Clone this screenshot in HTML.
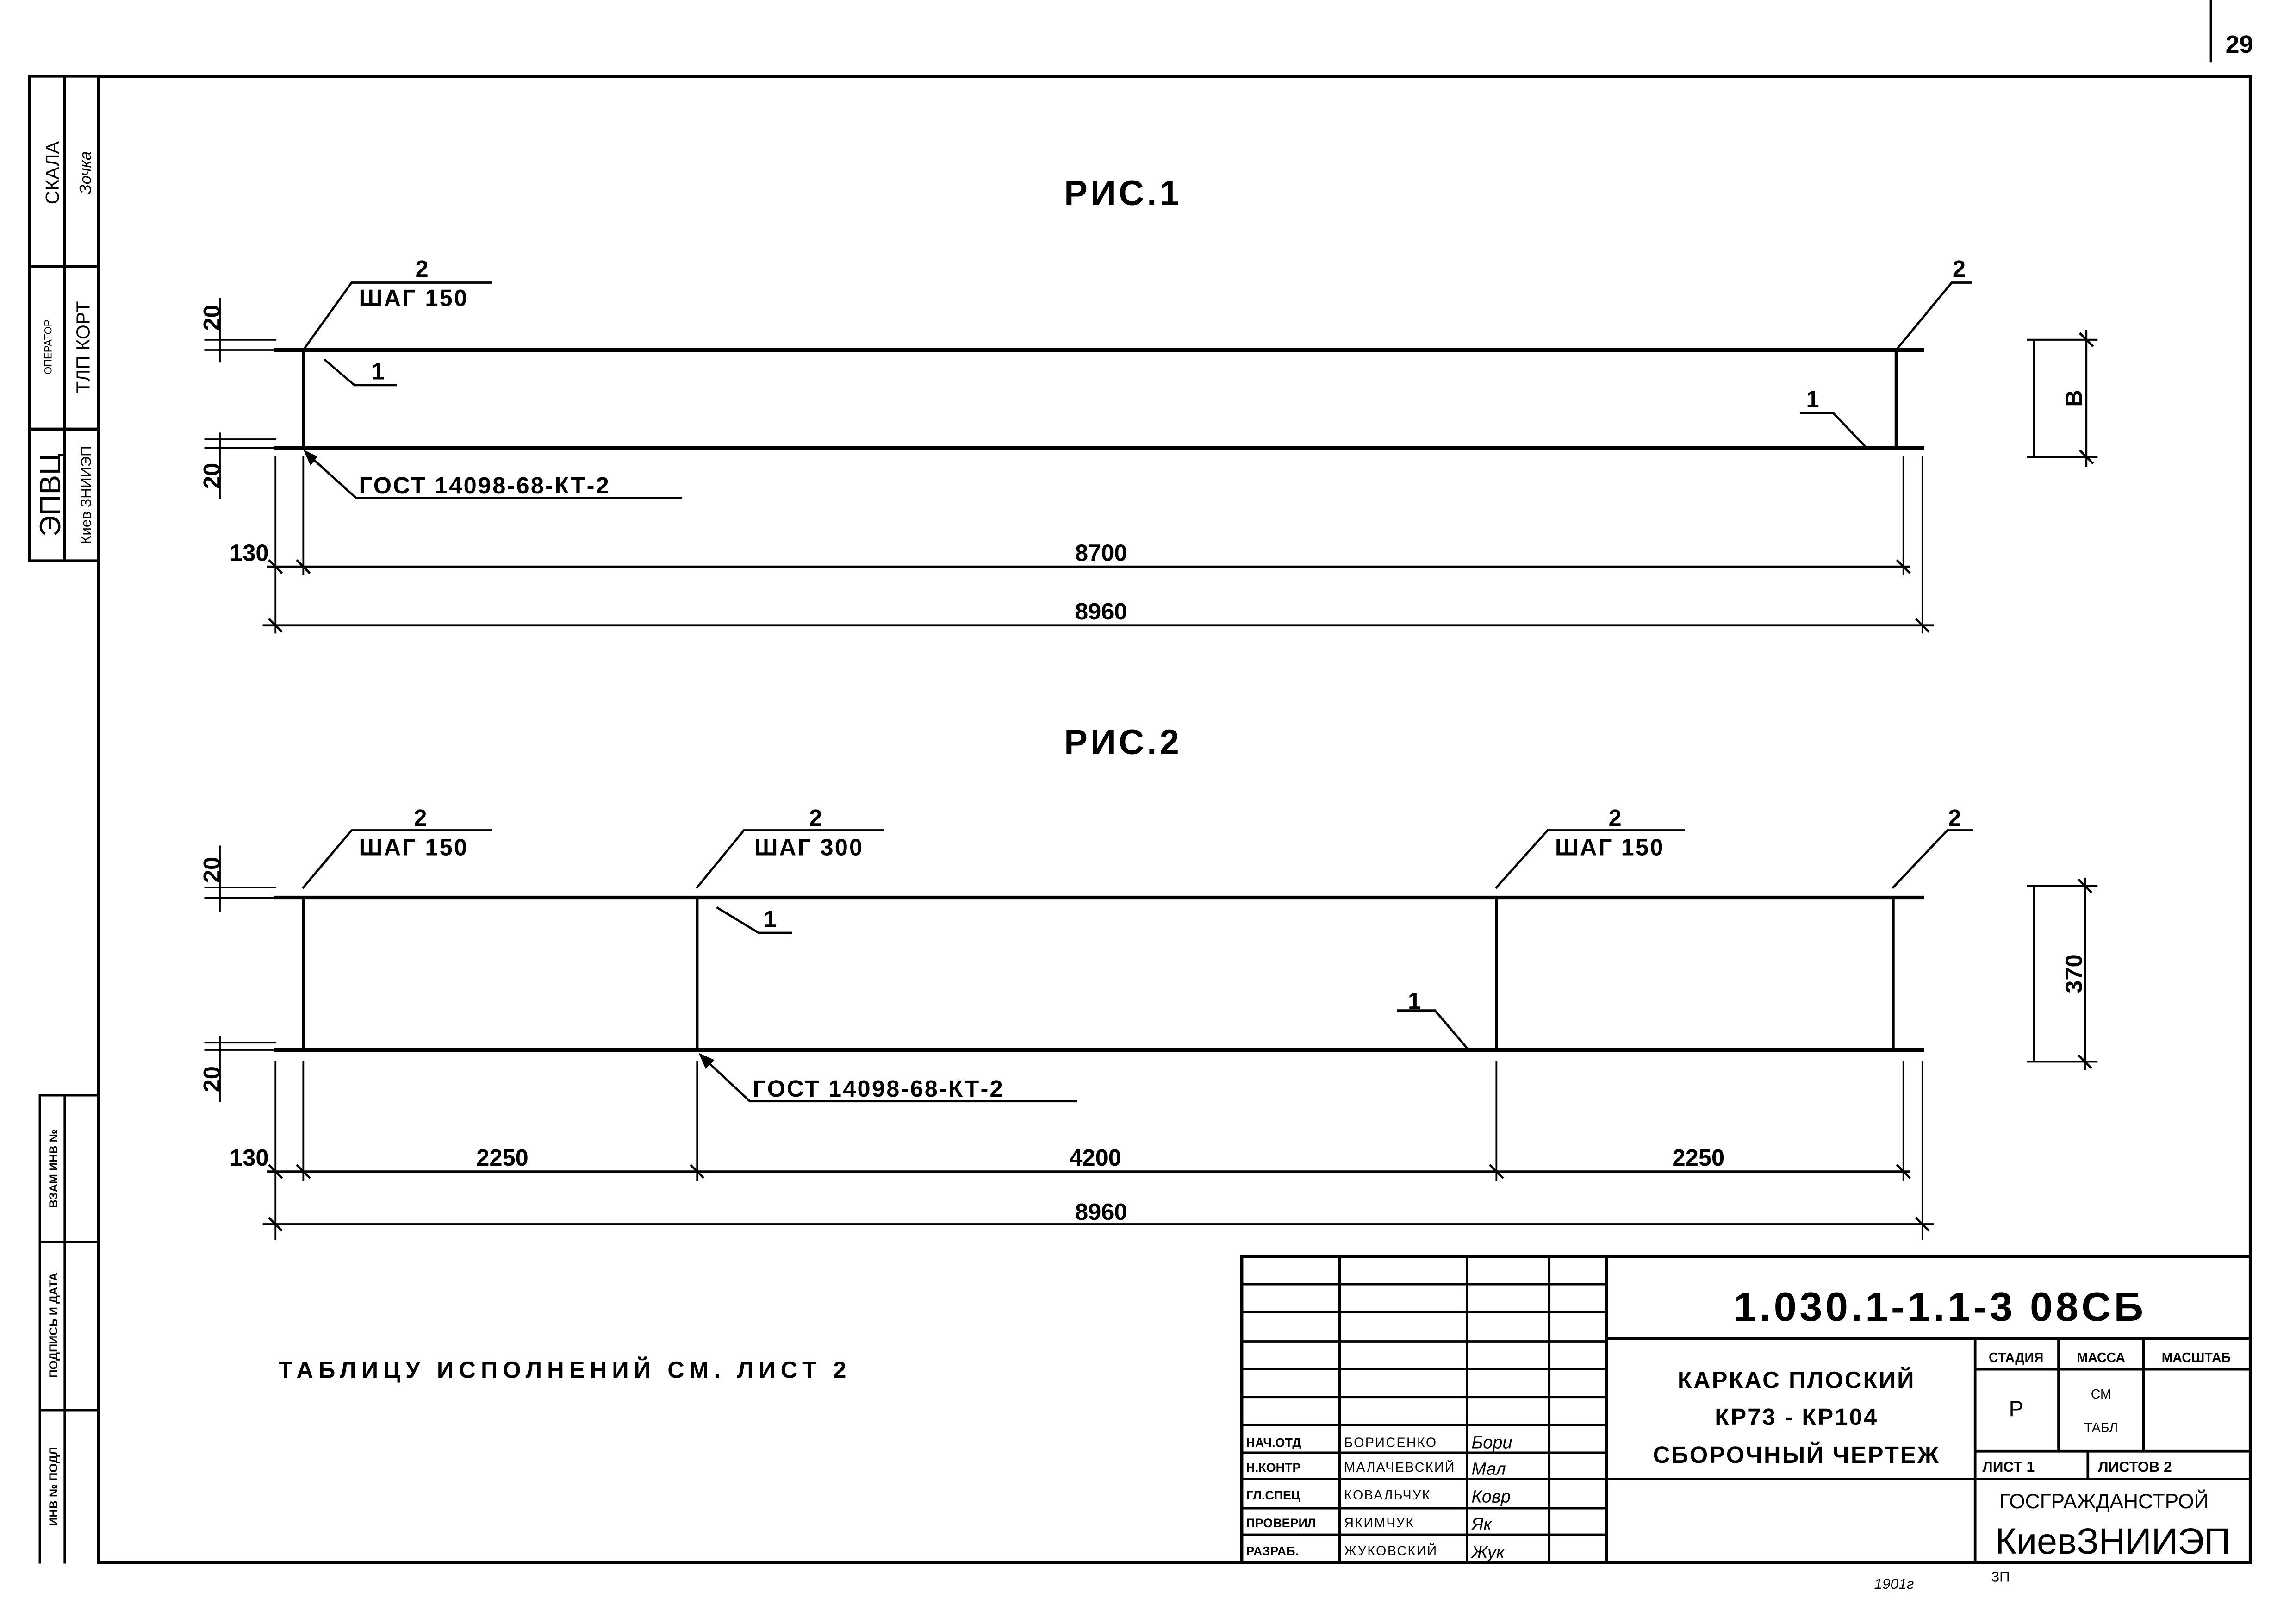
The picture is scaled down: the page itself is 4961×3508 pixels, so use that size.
<!DOCTYPE html>
<html><head><meta charset="utf-8"><style>
html,body{margin:0;padding:0;background:#fff}
svg{display:block}
text{font-family:"Liberation Sans","DejaVu Sans",sans-serif;fill:#000}
</style></head><body>
<svg width="4961" height="3508" viewBox="0 0 1568 1109" xmlns="http://www.w3.org/2000/svg">
<rect width="1568" height="1109" fill="#fff"/>
<g stroke="#000" fill="none" stroke-linecap="square">
<path d="M67 52H1537V1067H67Z" stroke-width="2.2"/>
<path d="M1510 0V42" stroke-width="1.5"/>
<path d="M20 52H67M20 52V383H67M44 52V383M20 182H67M20 293H67" stroke-width="2"/>
<path d="M27 748V1067M27 748H67M27 848H67M27 963H67M44 748V1067" stroke-width="1.5"/>
<path d="M848 858H1537M848 858V1067M1097 858V1067M848 1067H1537" stroke-width="2.2"/>
<path d="M915 858V1067M1002 858V1067M1058 858V1067" stroke-width="1.8"/>
<path d="M848 877H1097M848 896H1097M848 916H1097M848 935H1097M848 954H1097M848 973H1097M848 992H1097M848 1010H1097M848 1030H1097M848 1048H1097" stroke-width="1.5"/>
<path d="M1097 914H1537M1349 914V1067M1349 935H1537M1406 914V991M1464 914V991M1349 991H1537M1349 1010H1537M1426 991V1010M1097 1010H1349" stroke-width="1.8"/>

<path d="M188 239H1313M188 306H1313" stroke-width="2.6"/>
<path d="M207 239V306M1295 239V306" stroke-width="2"/>
<path d="M207 239L240 193H335M1295 239L1333 193H1346" stroke-width="1.5"/>
<path d="M222 246L242 263H270M1275 306L1252 282H1230" stroke-width="1.5"/>
<path d="M212 312L243 340H465" stroke-width="1.5"/>
<path d="M208 308L216 312L212 317Z" fill="#000" stroke-width="1"/>
<path d="M150 204V247M140 232H188M140 239H188M150 296V340M140 300H188M140 306H188" stroke-width="1.2"/>
<path d="M188 312V432M207 312V392M1300 312V392M1313 312V432" stroke-width="1.2"/>
<path d="M183 387H1304M180 427H1320" stroke-width="1.5"/>
<path d="M184 383L192 391M203 383L211 391M1296 383L1304 391M184 423L192 431M1309 423L1317 431" stroke-width="1.5"/>
<path d="M1385 232H1432M1385 312H1432M1389 232V312M1425 226V318" stroke-width="1.3"/>
<path d="M1421 228L1429 236M1421 308L1429 316" stroke-width="1.5"/>

<path d="M188 613H1313M188 717H1313" stroke-width="2.6"/>
<path d="M207 613V717M476 613V717M1022 613V717M1293 613V717" stroke-width="2"/>
<path d="M207 606L240 567H335M476 606L508 567H603M1022 606L1057 567H1150M1293 606L1330 567H1347" stroke-width="1.5"/>
<path d="M490 620L518 637H540M1003 717L980 690H955" stroke-width="1.5"/>
<path d="M482 724L512 752H735" stroke-width="1.5"/>
<path d="M478 720L487 724L482 729Z" fill="#000" stroke-width="1"/>
<path d="M150 578V622M140 606H188M140 613H188M150 708V752M140 712H188M140 717H188" stroke-width="1.2"/>
<path d="M188 725V846M207 725V806M476 725V806M1022 725V806M1300 725V806M1313 725V846" stroke-width="1.2"/>
<path d="M183 800H1304M180 836H1320" stroke-width="1.5"/>
<path d="M184 796L192 804M203 796L211 804M472 796L480 804M1018 796L1026 804M1296 796L1304 804M184 832L192 840M1309 832L1317 840" stroke-width="1.5"/>
<path d="M1385 605H1432M1385 725H1432M1389 605V725M1424 600V730" stroke-width="1.3"/>
<path d="M1420 601L1428 609M1420 721L1428 729" stroke-width="1.5"/>
</g>

<g font-size="16" font-weight="600">
<text x="1520" y="36" font-size="17">29</text>
<text x="767" y="140" font-size="24" font-weight="bold" text-anchor="middle" letter-spacing="2">РИС.1</text>
<text x="767" y="515" font-size="24" font-weight="bold" text-anchor="middle" letter-spacing="2">РИС.2</text>

<text x="288" y="189" text-anchor="middle">2</text>
<text x="245" y="209" letter-spacing="1">ШАГ 150</text>
<text x="1338" y="189" text-anchor="middle">2</text>
<text x="258" y="259" text-anchor="middle">1</text>
<text x="1238" y="278" text-anchor="middle">1</text>
<text x="245" y="337" letter-spacing="1">ГОСТ 14098-68-КТ-2</text>
<text x="170" y="383" text-anchor="middle">130</text>
<text x="752" y="383" text-anchor="middle">8700</text>
<text x="752" y="423" text-anchor="middle">8960</text>
<text transform="translate(150,217) rotate(-90)" text-anchor="middle">20</text>
<text transform="translate(150,325) rotate(-90)" text-anchor="middle">20</text>
<text transform="translate(1422,272) rotate(-90)" text-anchor="middle">В</text>

<text x="287" y="564" text-anchor="middle">2</text>
<text x="245" y="584" letter-spacing="1">ШАГ 150</text>
<text x="557" y="564" text-anchor="middle">2</text>
<text x="515" y="584" letter-spacing="1">ШАГ 300</text>
<text x="1103" y="564" text-anchor="middle">2</text>
<text x="1062" y="584" letter-spacing="1">ШАГ 150</text>
<text x="1335" y="564" text-anchor="middle" font-weight="bold">2</text>
<text x="526" y="633" text-anchor="middle">1</text>
<text x="966" y="689" text-anchor="middle">1</text>
<text x="514" y="749" letter-spacing="1">ГОСТ 14098-68-КТ-2</text>
<text x="170" y="796" text-anchor="middle">130</text>
<text x="343" y="796" text-anchor="middle">2250</text>
<text x="748" y="796" text-anchor="middle">4200</text>
<text x="1160" y="796" text-anchor="middle">2250</text>
<text x="752" y="833" text-anchor="middle">8960</text>
<text transform="translate(150,594) rotate(-90)" text-anchor="middle">20</text>
<text transform="translate(150,737) rotate(-90)" text-anchor="middle">20</text>
<text transform="translate(1422,665) rotate(-90)" text-anchor="middle">370</text>

<text x="190" y="941" letter-spacing="3.5">ТАБЛИЦУ  ИСПОЛНЕНИЙ  СМ.  ЛИСТ  2</text>
</g>

<g>
<text transform="translate(40,118) rotate(-90)" font-size="13" text-anchor="middle">СКАЛА</text>
<text transform="translate(62,118) rotate(-90)" font-size="11" font-style="italic" text-anchor="middle">Зочка</text>
<text transform="translate(35,237) rotate(-90)" font-size="7" text-anchor="middle">ОПЕРАТОР</text>
<text transform="translate(61,237) rotate(-90)" font-size="13" text-anchor="middle">ТЛП КОРТ</text>
<text transform="translate(41,338) rotate(-90)" font-size="20" text-anchor="middle">ЭПВЦ</text>
<text transform="translate(62,338) rotate(-90)" font-size="10" text-anchor="middle">Киев ЗНИИЭП</text>
<text transform="translate(39,798) rotate(-90)" font-size="8" font-weight="bold" text-anchor="middle">ВЗАМ ИНВ №</text>
<text transform="translate(39,905) rotate(-90)" font-size="8" font-weight="bold" text-anchor="middle">ПОДПИСЬ И ДАТА</text>
<text transform="translate(39,1015) rotate(-90)" font-size="8" font-weight="bold" text-anchor="middle">ИНВ № ПОДЛ</text>
</g>

<g>
<text x="1325" y="902" font-size="28" font-weight="bold" text-anchor="middle" letter-spacing="2">1.030.1-1.1-3 08СБ</text>
<text x="1227" y="948" font-size="16" font-weight="600" text-anchor="middle" letter-spacing="1">КАРКАС ПЛОСКИЙ</text>
<text x="1227" y="973" font-size="16" font-weight="600" text-anchor="middle" letter-spacing="1">КР73 - КР104</text>
<text x="1227" y="999" font-size="16" font-weight="600" text-anchor="middle" letter-spacing="1">СБОРОЧНЫЙ ЧЕРТЕЖ</text>
<text x="1377" y="930" font-size="9" font-weight="bold" text-anchor="middle">СТАДИЯ</text>
<text x="1435" y="930" font-size="9" font-weight="bold" text-anchor="middle">МАССА</text>
<text x="1500" y="930" font-size="9" font-weight="bold" text-anchor="middle">МАСШТАБ</text>
<text x="1377" y="967" font-size="15" text-anchor="middle">Р</text>
<text x="1435" y="955" font-size="9" text-anchor="middle">СМ</text>
<text x="1435" y="978" font-size="9" text-anchor="middle">ТАБЛ</text>
<text x="1354" y="1005" font-size="10" font-weight="bold">ЛИСТ  1</text>
<text x="1433" y="1005" font-size="10" font-weight="bold">ЛИСТОВ   2</text>
<text x="1437" y="1030" font-size="14" text-anchor="middle">ГОСГРАЖДАНСТРОЙ</text>
<text x="1443" y="1061" font-size="25" text-anchor="middle">КиевЗНИИЭП</text>
<g font-size="8.5" font-weight="bold">
<text x="851" y="988">НАЧ.ОТД</text>
<text x="851" y="1005">Н.КОНТР</text>
<text x="851" y="1024">ГЛ.СПЕЦ</text>
<text x="851" y="1043">ПРОВЕРИЛ</text>
<text x="851" y="1062">РАЗРАБ.</text>
</g>
<g font-size="9" letter-spacing="0.8">
<text x="918" y="988">БОРИСЕНКО</text>
<text x="918" y="1005">МАЛАЧЕВСКИЙ</text>
<text x="918" y="1024">КОВАЛЬЧУК</text>
<text x="918" y="1043">ЯКИМЧУК</text>
<text x="918" y="1062">ЖУКОВСКИЙ</text>
</g>
<g font-size="12" font-style="italic">
<text x="1005" y="989">Бори</text>
<text x="1005" y="1007">Мал</text>
<text x="1005" y="1026">Ковр</text>
<text x="1005" y="1045">Як</text>
<text x="1005" y="1064">Жук</text>
</g>
<text x="1280" y="1085" font-size="10" font-style="italic">1901г</text>
<text x="1360" y="1080" font-size="10">3П</text>
</g>
</svg>
</body></html>
